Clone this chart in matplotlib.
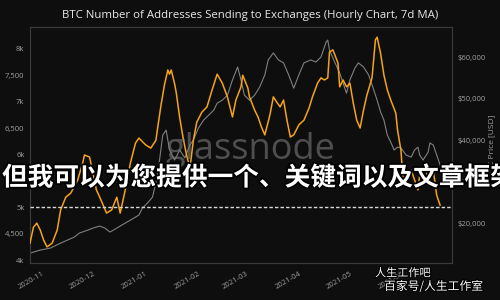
import datetime as dt
import matplotlib
matplotlib.use("Agg")
import matplotlib.pyplot as plt
import matplotlib.dates as mdates
import matplotlib.patheffects as pe
from matplotlib.ticker import FuncFormatter, MultipleLocator

# Data
start_date = dt.datetime(2020, 10, 23)
end_day = 248

addr_days = [0, 2, 4, 6, 8, 10, 13, 16, 18, 21, 24, 28, 31, 32, 35, 37, 39, 41, 45, 48,
             51, 53, 56, 59, 62, 64, 68, 71, 74, 75, 77, 79, 81, 82, 83, 85, 86, 88, 90, 92,
             94, 96, 98, 101, 104, 107, 110, 113, 116, 119, 121, 124, 125, 128, 129, 132, 134, 136, 138, 141,
             143, 145, 147, 149, 151, 153, 155, 158, 161, 164, 166, 169, 171, 173, 175, 176, 178, 181, 182, 184,
             186, 188, 190, 192, 194, 196, 198, 201, 203, 204, 206, 208, 210, 212, 215, 216, 218, 219, 221, 224,
             225, 228, 229, 232, 234, 237, 239, 241]
addr_values = [4320, 4620, 4700, 4570, 4380, 4250, 4320, 4570, 4950, 5190, 5270, 5515, 5840, 5990, 5950, 5650, 5330, 5190, 4890, 4950,
               5190, 4890, 5330, 5840, 6215, 6310, 6180, 6120, 6270, 6500, 6935, 7315, 7600, 7520, 7600, 7335, 7160, 6690, 6310, 5990,
               5740, 6270, 6610, 6800, 6900, 7220, 7520, 7350, 7090, 6710, 7030, 7280, 7500, 7260, 7090, 6840, 6710, 6520, 6370, 6750,
               7090, 6990, 6900, 7030, 6650, 6330, 6370, 6560, 6650, 6880, 7090, 7350, 7450, 7410, 7450, 7940, 7980, 7730, 7280, 7410,
               7280, 7350, 6970, 6650, 6500, 6840, 7125, 7450, 8170, 8220, 7920, 7500, 7220, 7030, 6780, 6460, 6080, 5610, 5480, 5700,
               5610, 5330, 5610, 5800, 5550, 5700, 5230, 5040]

price_days = [0, 6, 12, 18, 22, 26, 29, 34, 37, 41, 44, 47, 49, 53, 57, 61, 64, 66, 69, 72,
              75, 78, 80, 82, 85, 88, 91, 94, 96, 99, 102, 105, 108, 110, 113, 116, 119, 122, 124, 126,
              129, 132, 135, 138, 140, 143, 146, 149, 152, 155, 158, 161, 165, 168, 171, 174, 175, 176, 179, 182,
              185, 186, 188, 191, 193, 196, 199, 202, 204, 206, 208, 210, 212, 214, 216, 218, 221, 224, 226, 228,
              229, 231, 234, 235, 237, 239, 241]
price_values = [12770, 13490, 13980, 15180, 15900, 16630, 17590, 18310, 18800, 19280, 18800, 17830, 18310, 19280, 20240, 21200, 21930, 23600, 24800, 26270,
                31570, 41200, 42400, 37600, 35200, 37600, 35700, 38800, 40000, 42900, 44800, 46000, 47200, 48900, 49600, 50800, 54500, 57600, 54500, 50800,
                49600, 50800, 52800, 55700, 59300, 61000, 59300, 58600, 55700, 52500, 55700, 58600, 59300, 58800, 60000, 63600, 64100, 61700, 58800, 56200,
                52500, 51300, 54500, 57400, 58600, 57600, 55700, 52100, 49600, 46800, 44800, 41200, 39500, 37600, 38300, 38100, 36400, 35900, 37600, 38300,
                36400, 35200, 37100, 39300, 38800, 36400, 34000]

threshold = 5000
title = "BTC Number of Addresses Sending to Exchanges (Hourly Chart, 7d MA)"
overlay_text = "但我可以为您提供一个、关键词以及文章框架"

BG = "#0e0e0e"
ORANGE = "#f5a31a"
GRAY = "#8c8c8c"
TICK = "#a0a0a0"

addr_dates = [start_date + dt.timedelta(days=d) for d in addr_days]
price_dates = [start_date + dt.timedelta(days=d) for d in price_days]

plt.rcParams["font.family"] = ["Open Sans", "DejaVu Sans"]

fig = plt.figure(figsize=(5, 3), dpi=100, facecolor=BG)
ax = fig.add_axes([0.06, 0.123, 0.844, 0.787], facecolor=BG)
ax2 = ax.twinx()

ax2.plot(price_dates, price_values, color=GRAY, lw=0.8, alpha=0.9, zorder=1)
ax.plot(addr_dates, addr_values, color=ORANGE, lw=1.1, zorder=3)
ax.set_zorder(ax2.get_zorder() + 1)
ax.patch.set_visible(False)
ax2.patch.set_facecolor(BG)
ax.axhline(threshold, color="#d8d8d8", lw=1.0, ls=(0, (2.5, 1.5)), zorder=4)

ax.set_xlim(start_date, start_date + dt.timedelta(days=end_day))
ax.set_ylim(3943, 8413)
ax2.set_ylim(10360, 67240)

ax.yaxis.set_major_locator(MultipleLocator(500))
ax.yaxis.set_major_formatter(FuncFormatter(
    lambda v, p: f"{int(v / 1000)}k" if v % 1000 == 0 else f"{int(v):,}"))
ax2.yaxis.set_major_locator(MultipleLocator(10000))
ax2.yaxis.set_major_formatter(FuncFormatter(lambda v, p: f"${int(v):,}"))
ax.xaxis.set_major_locator(mdates.MonthLocator())
ax.xaxis.set_major_formatter(mdates.DateFormatter("%Y-%m"))

for a in (ax, ax2):
    a.tick_params(colors=TICK, labelsize=5.5, length=0, pad=4)
    for s in a.spines.values():
        s.set_color("#3a3a3a")
        s.set_linewidth(0.8)
ax.tick_params(axis="x", pad=5)
for lab in ax.get_xticklabels():
    lab.set_rotation(30)
    lab.set_ha("right")

ax2.set_ylabel("BTC Price [USD]", color=TICK, fontsize=6, labelpad=2)

fig.text(0.5, 0.948, title, ha="center", va="center", color="#e8e8e8", fontsize=8.2)

# watermarks
fig.text(0.5, 0.5, "glassnode", ha="center", va="center", color="#7a7a7a",
         alpha=0.6, fontsize=26, zorder=5)
fig.text(0.004, 0.407, overlay_text, ha="left", va="center", color="white",
         fontsize=18.5, fontweight="bold", family=["Noto Sans CJK SC", "DejaVu Sans"],
         path_effects=[pe.withStroke(linewidth=2.5, foreground="black")], zorder=10)
fig.text(0.75, 0.09, "人生工作吧", ha="left", va="center", color="white",
         fontsize=8, family=["Noto Sans CJK SC", "DejaVu Sans"],
         path_effects=[pe.withStroke(linewidth=1.5, foreground="black")], zorder=10)
fig.text(0.768, 0.045, "百家号/人生工作室", ha="left", va="center", color="white",
         fontsize=8.5, family=["Noto Sans CJK SC", "DejaVu Sans"],
         path_effects=[pe.withStroke(linewidth=1.5, foreground="black")], zorder=10)

fig.savefig("out.png", dpi=100, facecolor=BG)
